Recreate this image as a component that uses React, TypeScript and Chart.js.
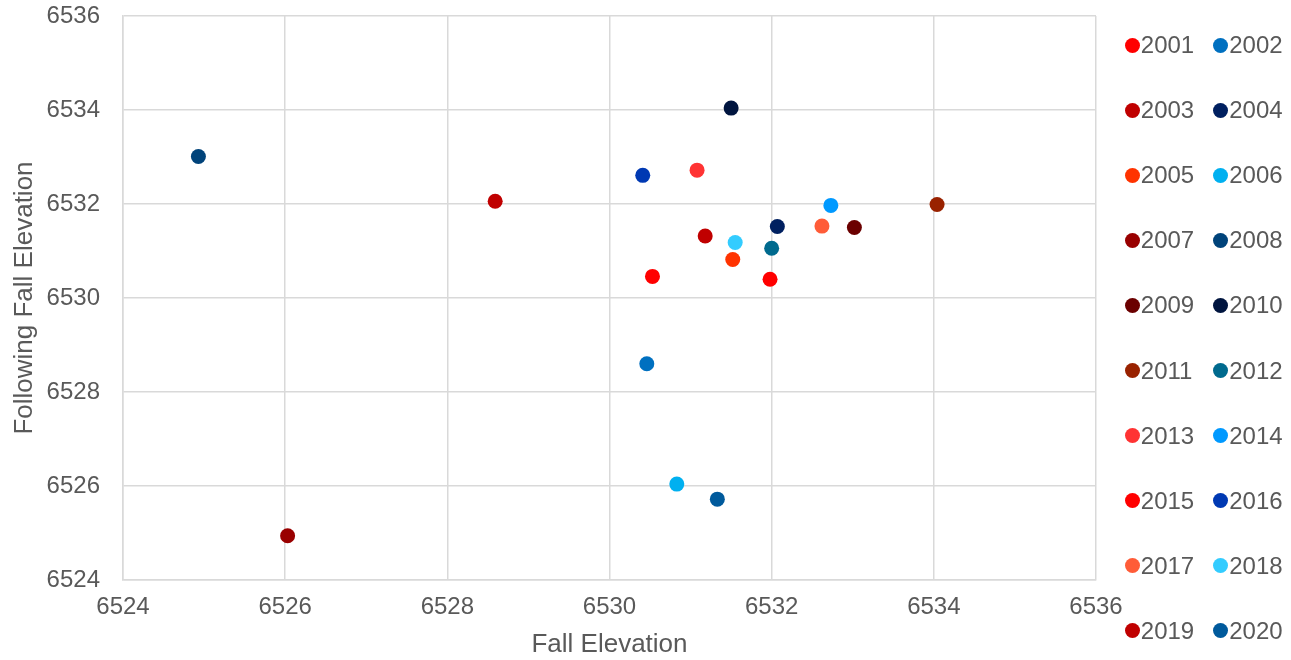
import React, { useEffect, useRef } from "react";
import { Chart, registerables } from "chart.js";

Chart.register(...registerables);

const years: string[] = [
  "2001", "2002", "2003", "2004", "2005", "2006", "2007", "2008", "2009", "2010",
  "2011", "2012", "2013", "2014", "2015", "2016", "2017", "2018", "2019", "2020",
];

const fallElevation: number[] = [
  6530.53, 6530.46, 6528.59, 6532.07, 6531.52, 6530.83, 6526.03, 6524.93, 6533.02, 6531.5,
  6534.04, 6532.0, 6531.08, 6532.73, 6531.98, 6530.41, 6532.62, 6531.55, 6531.18, 6531.33,
];

const followingFallElevation: number[] = [
  6530.46, 6528.6, 6532.06, 6531.52, 6530.82, 6526.04, 6524.94, 6533.01, 6531.5, 6534.04,
  6531.99, 6531.06, 6532.72, 6531.97, 6530.4, 6532.61, 6531.53, 6531.18, 6531.32, 6525.72,
];

const colors: string[] = [
  "#FF0000", "#0070C0", "#C00000", "#002060", "#FF3300", "#00B0F0", "#990000", "#00437A", "#6B0000", "#00153F",
  "#992200", "#006A8E", "#FF3333", "#0099FF", "#FF0000", "#0039B3", "#FF5C38", "#33CCFF", "#C00000", "#005A9C",
];

const axisMin = 6524;
const axisMax = 6536;
const axisStep = 2;

const FONT = "'Liberation Sans', Arial, sans-serif";
const TEXT = "#595959";
const GRID = "#D9D9D9";

export default function App() {
  const canvasRef = useRef<HTMLCanvasElement | null>(null);

  useEffect(() => {
    if (!canvasRef.current) return;
    const chart = new Chart(canvasRef.current, {
      type: "scatter",
      data: {
        datasets: years.map((y, i) => ({
          label: y,
          data: [{ x: fallElevation[i], y: followingFallElevation[i] }],
          backgroundColor: colors[i],
          borderColor: colors[i],
          pointRadius: 7.5,
          pointHoverRadius: 7.5,
          pointBorderWidth: 0,
        })),
      },
      options: {
        animation: false,
        responsive: true,
        maintainAspectRatio: false,
        layout: { padding: { top: 16, right: 195, bottom: 0, left: 0 } },
        plugins: {
          legend: { display: false },
          tooltip: { enabled: false },
        },
        scales: {
          x: {
            type: "linear",
            min: axisMin,
            max: axisMax,
            afterFit: (scale: any) => {
              scale.height = 80;
              scale.paddingLeft = 0;
              scale.paddingRight = 0;
            },
            ticks: {
              stepSize: axisStep,
              color: TEXT,
              font: { family: FONT, size: 24 },
              padding: 13,
              callback: (v: any) => String(v),
            },
            grid: { color: GRID, lineWidth: 1.5, drawTicks: false },
            border: { color: GRID, width: 1.5 },
            title: {
              display: true,
              text: "Fall Elevation",
              color: TEXT,
              font: { family: FONT, size: 26 },
              padding: { top: 0, bottom: 0 },
            },
          },
          y: {
            type: "linear",
            min: axisMin,
            max: axisMax,
            afterFit: (scale: any) => {
              scale.width = 123;
              scale.paddingTop = 0;
              scale.paddingBottom = 0;
            },
            ticks: {
              stepSize: axisStep,
              color: TEXT,
              font: { family: FONT, size: 24 },
              padding: 23,
              callback: (v: any) => String(v),
            },
            grid: { color: GRID, lineWidth: 1.5, drawTicks: false },
            border: { color: GRID, width: 1.5 },
            title: {
              display: true,
              text: "Following Fall Elevation",
              color: TEXT,
              font: { family: FONT, size: 26 },
              padding: { top: 9, bottom: 0 },
            },
          },
        },
      },
    });
    return () => chart.destroy();
  }, []);

  const rowTop = 45;
  const rowGap = 65.1;

  return (
    <div style={{ position: "absolute", left: 0, top: 0, width: 1291, height: 660, background: "#fff" }}>
      <canvas ref={canvasRef} />
      {years.map((y, i) => {
        const col = i % 2;
        const row = Math.floor(i / 2);
        const cx = col === 0 ? 1132.3 : 1220.7;
        const cy = rowTop + row * rowGap;
        return (
          <div
            key={y}
            style={{
              position: "absolute",
              left: cx - 7.5,
              top: cy - 14,
              height: 28,
              display: "flex",
              alignItems: "center",
              fontFamily: FONT,
              fontSize: 24,
              color: TEXT,
              whiteSpace: "nowrap",
            }}
          >
            <span
              style={{
                display: "inline-block",
                width: 15,
                height: 15,
                borderRadius: "50%",
                background: colors[i],
                marginRight: 1,
              }}
            />
            <span>{y}</span>
          </div>
        );
      })}
    </div>
  );
}
